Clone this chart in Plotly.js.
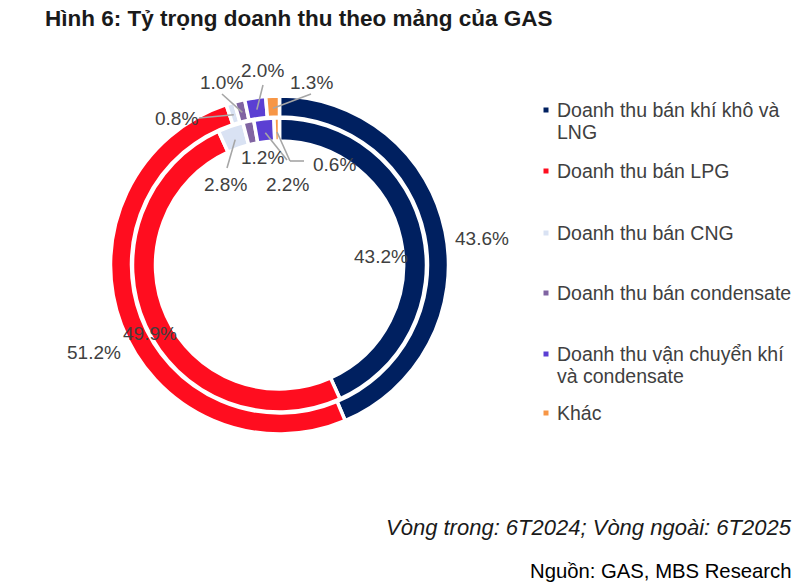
<!DOCTYPE html>
<html>
<head>
<meta charset="utf-8">
<script src="https://cdn.plot.ly/plotly-3.0.1.min.js"></script>
<style>html,body{margin:0;padding:0;background:#fff;}#chart{width:809px;height:588px;}</style>
</head>
<body>
<div id="chart"></div>
<script>
// ---- data ----
const categories = ['Doanh thu bán khí khô và LNG', 'Doanh thu bán LPG', 'Doanh thu bán CNG',
  'Doanh thu bán condensate', 'Doanh thu vận chuyển khí và condensate', 'Khác'];
const legendLines = [['Doanh thu bán khí khô và', 'LNG'], ['Doanh thu bán LPG'], ['Doanh thu bán CNG'],
  ['Doanh thu bán condensate'], ['Doanh thu vận chuyển khí', 'và condensate'], ['Khác']];
const outer6T2025 = [43.6, 51.2, 0.8, 1.0, 2.0, 1.3];
const inner6T2024 = [43.2, 49.9, 2.8, 1.2, 2.2, 0.6];
const colors = ['#002060', '#FF0D1F', '#D9E2F3', '#8064A2', '#5B3FD3', '#F79646'];
const titleText = 'Hình 6: Tỷ trọng doanh thu theo mảng của GAS';
const noteText = 'Vòng trong: 6T2024; Vòng ngoài: 6T2025';
const sourceText = 'Nguồn: GAS, MBS Research';

// ---- layout (pixels) ----
const W = 809, H = 588;
const cx = 279.5, cy = 265;
const outerR = 169, outerHoleR = 148;
const innerR = 147, innerHoleR = 124;
const px = x => x / W;
const py = y => 1 - y / H;

// label text centres, and leader-line start near text (null = no line)
const outerLabelPos = [[482, 238], [94, 353], [176, 119], [221, 82], [262, 71], [311, 82]];
const outerLineStart = [null, null, [199, 118], [222, 94], [263, 85], [311, 94]];
const innerLabelPos = [[381, 256], [150, 333], [226, 185], [262, 158], [287, 184], [334, 165]];
const innerLineStart = [null, null, [227, 168], null, [287, 160], [304, 161]];
const innerElbow = [null, null, null, null, null, [290, 161]];

function domainFor(R) {
  return {x: [px(cx - R), px(cx + R)], y: [py(cy + R), py(cy - R)]};
}
function anchors(vals, r) {
  const tot = vals.reduce((a, b) => a + b, 0);
  let cum = 0;
  return vals.map(v => {
    const th = 2 * Math.PI * (cum + v / 2) / tot;
    cum += v;
    return [cx + r * Math.sin(th), cy - r * Math.cos(th)];
  });
}

const lineStyle = {color: '#A6A6A6', width: 1.6};
const pieCommon = {
  type: 'pie', labels: categories, sort: false, direction: 'clockwise', rotation: 0,
  textinfo: 'none', hoverinfo: 'skip', showlegend: false,
  marker: {colors: colors, line: {color: '#FFFFFF', width: 3.5}}
};
const traces = [
  Object.assign({}, pieCommon, {values: outer6T2025, hole: outerHoleR / outerR, domain: domainFor(outerR), name: '6T2025'}),
  Object.assign({}, pieCommon, {values: inner6T2024, hole: innerHoleR / innerR, domain: domainFor(innerR), name: '6T2024'})
];

const labelFont = {family: 'Liberation Sans, Arial, sans-serif', size: 19, color: '#404040'};
const annotations = [];
const shapes = [];

function addLabels(vals, pos, starts, elbows, anch) {
  vals.forEach((v, i) => {
    annotations.push({xref: 'paper', yref: 'paper', x: px(pos[i][0]), y: py(pos[i][1]),
      xanchor: 'center', yanchor: 'middle', showarrow: false, text: v.toFixed(1) + '%', font: labelFont});
    if (starts[i]) {
      const a = anch[i];
      let from = starts[i];
      if (elbows && elbows[i]) {
        shapes.push({type: 'line', xref: 'paper', yref: 'paper', x0: px(from[0]), y0: py(from[1]),
          x1: px(elbows[i][0]), y1: py(elbows[i][1]), line: lineStyle});
        from = elbows[i];
      }
      shapes.push({type: 'line', xref: 'paper', yref: 'paper', x0: px(from[0]), y0: py(from[1]),
        x1: px(a[0]), y1: py(a[1]), line: lineStyle});
    }
  });
}
addLabels(outer6T2025, outerLabelPos, outerLineStart, null, anchors(outer6T2025, 157));
addLabels(inner6T2024, innerLabelPos, innerLineStart, innerElbow, anchors(inner6T2024, 133));

// legend (manual)
const legendY = [110, 171, 233, 293, 354, 413];
const legendFont = {family: 'Liberation Sans, Arial, sans-serif', size: 19.5, color: '#404040'};
legendLines.forEach((lines, i) => {
  shapes.push({type: 'rect', xref: 'paper', yref: 'paper', x0: px(543.5), x1: px(548.5),
    y0: py(legendY[i] + 2.5), y1: py(legendY[i] - 2.5), fillcolor: colors[i], line: {width: 0}});
  lines.forEach((t, j) => {
    annotations.push({xref: 'paper', yref: 'paper', x: px(555), y: py(legendY[i] + j * 22),
      xanchor: 'left', yanchor: 'middle', showarrow: false, text: t, font: legendFont});
  });
});

annotations.push({xref: 'paper', yref: 'paper', x: px(794), y: py(527), xanchor: 'right', yanchor: 'middle',
  showarrow: false, text: '<i>' + noteText + '</i>', font: {family: 'Liberation Sans, Arial, sans-serif', size: 22, color: '#1a1a1a'}});
annotations.push({xref: 'paper', yref: 'paper', x: px(794), y: py(571), xanchor: 'right', yanchor: 'middle',
  showarrow: false, text: sourceText, font: {family: 'Liberation Sans, Arial, sans-serif', size: 20.3, color: '#000000'}});

const layout = {
  width: W, height: H,
  margin: {l: 0, r: 0, t: 0, b: 0},
  paper_bgcolor: '#FFFFFF', plot_bgcolor: '#FFFFFF',
  showlegend: false,
  title: {text: '<b>' + titleText + '</b>', x: px(45), xanchor: 'left', xref: 'paper',
    y: py(18), yanchor: 'middle', yref: 'container',
    font: {family: 'Liberation Sans, Arial, sans-serif', size: 22.5, color: '#1a1a1a'}},
  annotations: annotations,
  shapes: shapes
};

Plotly.newPlot('chart', traces, layout, {displayModeBar: false, staticPlot: true});
</script>
</body>
</html>
